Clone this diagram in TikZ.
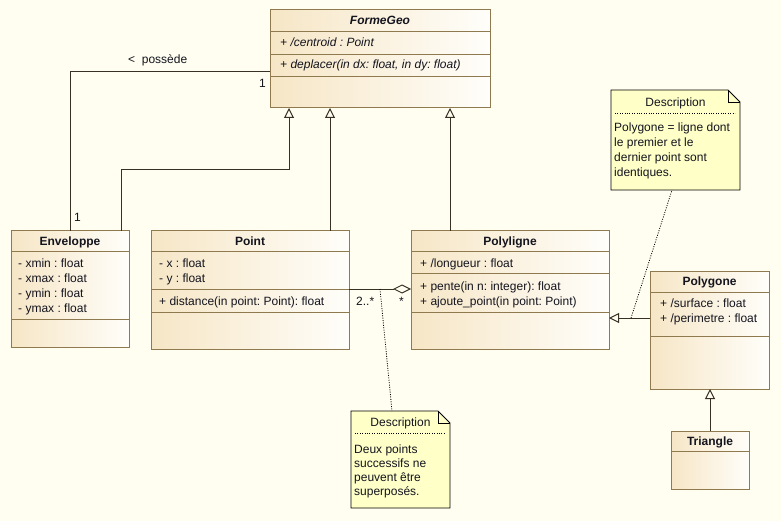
\documentclass[tikz,border=0pt]{standalone}
\usepackage{fontspec}
\setmainfont{Liberation Sans}
\usetikzlibrary{arrows.meta,calc,positioning}

\definecolor{bg}{RGB}{255,254,240}
\definecolor{classleft}{RGB}{246,230,198}
\definecolor{classright}{RGB}{255,254,250}
\definecolor{classedge}{RGB}{143,122,80}
\definecolor{wire}{RGB}{55,48,35}
\definecolor{notefill}{RGB}{255,255,200}
\definecolor{ink}{RGB}{20,20,30}
\newcommand{\umlfont}{\fontsize{12}{14}\selectfont}
\frenchspacing

\begin{document}
\begin{tikzpicture}[x=1pt,y=-1pt]
  % Global styles for boxes, texts and connectors
  \tikzset{
    classbox/.style  = {draw=classedge, line width=1pt, left color=classleft, right color=classright, inner sep=0pt, outer sep=0pt, anchor=north west},
    classline/.style = {draw=classedge, line width=1pt},
    ctitle/.style    = {font=\bfseries\umlfont, text=ink, inner sep=0pt, anchor=base},
    member/.style    = {font=\umlfont, text=ink, inner sep=0pt, anchor=base west},
    notebox/.style   = {inner sep=0pt, outer sep=0pt, anchor=north west},
    noteline/.style  = {draw=black, line width=0.8pt, fill=notefill},
    wirelab/.style   = {font=\umlfont, text=ink, inner sep=0pt, anchor=base west},
    gen/.style       = {draw=wire, line width=1pt, -{Triangle[open, width=10pt, length=10pt]}},
    agg/.style       = {draw=wire, line width=1pt, -{Diamond[open, width=9pt, length=18pt]}},
    assoc/.style     = {draw=wire, line width=1pt},
    anchorline/.style= {draw=black, line width=0.8pt, dash pattern=on 1pt off 1.4pt}
  }

  % background and page size
  \fill[bg] (0,0) rectangle (781,521);
  \useasboundingbox (0,0) rectangle (781,521);

  % ========= FormeGeo (abstract) =========
  \node[classbox, minimum width=220pt, minimum height=98pt] (forme) at (270,10) {};
  \foreach \s in {22,45,67} { \draw[classline] ([yshift=-\s pt]forme.north west) -- ([yshift=-\s pt]forme.north east); }
  \node[ctitle, font=\bfseries\itshape\umlfont] (forme-t) at (380,25) {FormeGeo};
  \node[member, font=\itshape\umlfont] (forme-a1) at (280,47) {+ /centroid : Point};
  \node[member, font=\itshape\umlfont] (forme-o1) at (280,69) {+ deplacer(in dx: float, in dy: float)};

  % ========= Enveloppe =========
  \node[classbox, minimum width=118pt, minimum height=116pt] (env) at (11,231) {};
  \foreach \s in {21,88} { \draw[classline] ([yshift=-\s pt]env.north west) -- ([yshift=-\s pt]env.north east); }
  \node[ctitle] (env-t) at (70,245) {Enveloppe};
  \foreach \t [count=\i] in {xmin,xmax,ymin,ymax} { \node[member] (env-a\i) at (18,252+15*\i) {- \t{} : float}; }

  % ========= Point =========
  \node[classbox, minimum width=198pt, minimum height=118pt] (point) at (151,231) {};
  \foreach \s in {21,58,81} { \draw[classline] ([yshift=-\s pt]point.north west) -- ([yshift=-\s pt]point.north east); }
  \node[ctitle] (point-t) at (250,245) {Point};
  \node[member] (point-a1) at (159,267) {- x : float};
  \node[member] (point-a2) at (159,282) {- y : float};
  \node[member] (point-o1) at (159,305) {+ distance(in point: Point): float};

  % ========= Polyligne =========
  \node[classbox, minimum width=198pt, minimum height=118pt] (polyl) at (411,231) {};
  \foreach \s in {21,42,81} { \draw[classline] ([yshift=-\s pt]polyl.north west) -- ([yshift=-\s pt]polyl.north east); }
  \node[ctitle] (polyl-t) at (510,245) {Polyligne};
  \node[member] (polyl-a1) at (420,267) {+ /longueur : float};
  \node[member] (polyl-o1) at (420,290) {+ pente(in n: integer): float};
  \node[member] (polyl-o2) at (420,305) {+ ajoute\_point(in point: Point)};

  % ========= Polygone =========
  \node[classbox, minimum width=119pt, minimum height=118pt] (polyg) at (650,271) {};
  \foreach \s in {21,65} { \draw[classline] ([yshift=-\s pt]polyg.north west) -- ([yshift=-\s pt]polyg.north east); }
  \node[ctitle] (polyg-t) at (709.5,285) {Polygone};
  \node[member] (polyg-a1) at (660,307) {+ /surface : float};
  \node[member] (polyg-a2) at (660,322) {+ /perimetre : float};

  % ========= Triangle =========
  \node[classbox, minimum width=78pt, minimum height=58pt] (tri) at (671,431) {};
  \draw[classline] ([yshift=-20pt]tri.north west) -- ([yshift=-20pt]tri.north east);
  \node[ctitle] (tri-t) at (710,445) {Triangle};

  % ========= Notes =========
  % note on Polygone
  \node[notebox, minimum width=129pt, minimum height=100pt] (note1) at (611,90) {};
  \draw[noteline] (note1.north west) -- ([xshift=-12pt]note1.north east) -- ([yshift=-12pt]note1.north east)
    -- (note1.south east) -- (note1.south west) -- cycle;
  \draw[draw=black, line width=0.8pt] ([xshift=-12pt]note1.north east) -- ([xshift=-12pt,yshift=-12pt]note1.north east) -- ([yshift=-12pt]note1.north east);
  \draw[anchorline] ([xshift=4pt,yshift=-23pt]note1.north west) -- ([xshift=-5pt,yshift=-23pt]note1.north east);
  \node[ctitle, font=\umlfont] (note1-t) at (675.5,107) {Description};
  \foreach \t [count=\i] in {Polygone = ligne dont,le premier et le,dernier point sont,identiques.}
    { \node[member] (note1-l\i) at (614,117+15*\i) {\t}; }

  % note on the aggregation
  \node[notebox, minimum width=99pt, minimum height=97pt] (note2) at (351,411) {};
  \draw[noteline] (note2.north west) -- ([xshift=-12pt]note2.north east) -- ([yshift=-12pt]note2.north east)
    -- (note2.south east) -- (note2.south west) -- cycle;
  \draw[draw=black, line width=0.8pt] ([xshift=-12pt]note2.north east) -- ([xshift=-12pt,yshift=-12pt]note2.north east) -- ([yshift=-12pt]note2.north east);
  \draw[anchorline] ([xshift=4pt,yshift=-22pt]note2.north west) -- ([xshift=-4pt,yshift=-22pt]note2.north east);
  \node[ctitle, font=\umlfont] (note2-t) at (400.5,426) {Description};
  \foreach \t [count=\i] in {Deux points,successifs ne,peuvent être,superposés.}
    { \node[member] (note2-l\i) at (354,438.7+14.3*\i) {\t}; }

  % ========= Connectors =========
  % association Enveloppe -- FormeGeo
  \draw[assoc] ([xshift=59pt]env.north west) |- ([yshift=-62pt]forme.north west);
  \node[wirelab] (assoc-lab) at (128,64) {<\ \ possède};
  \node[wirelab] (assoc-m1) at (259,88) {1};
  \node[wirelab] (assoc-m2) at (74,222) {1};

  % generalisations towards FormeGeo
  \draw[gen] ([xshift=110pt]env.north west) -- ++(0,-61) -| ([xshift=19pt]forme.south west);
  \draw[gen] ([xshift=179pt]point.north west) -- ([xshift=60pt]forme.south west);
  \draw[gen] ([xshift=39pt]polyl.north west) -- ([xshift=180pt]forme.south west);

  % aggregation Point -- Polyligne
  \draw[agg] ([yshift=-58pt]point.north east) -- ([yshift=-58pt]polyl.north west);
  \node[wirelab] (agg-m1) at (356,305) {2..*};
  \node[wirelab] (agg-m2) at (399,305) {*};

  % Polygone -> Polyligne, Triangle -> Polygone
  \draw[gen] ([yshift=-47pt]polyg.north west) -- ([yshift=-87pt]polyl.north east);
  \draw[gen] (tri.north) -- (tri.north |- polyg.south);

  % note anchors (dotted)
  \draw[anchorline] ([xshift=31pt,yshift=-58pt]point.north east) -- ([xshift=41pt]note2.north west);
  \draw[anchorline] ([xshift=22pt,yshift=-87pt]polyl.north east) -- ([xshift=61pt]note1.south west);
\end{tikzpicture}
\end{document}
